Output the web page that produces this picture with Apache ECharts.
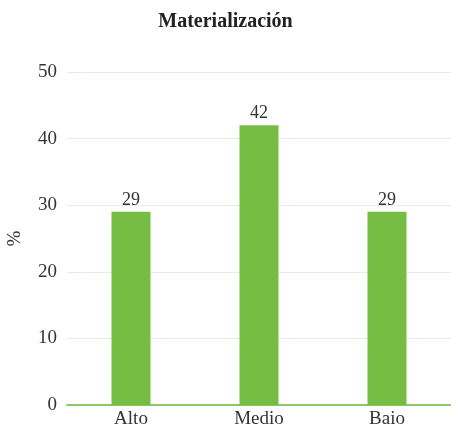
<!DOCTYPE html>
<html><head><meta charset="utf-8">
<script src="https://cdn.jsdelivr.net/npm/echarts@6/dist/echarts.min.js"></script>
<style>html,body{margin:0;padding:0;background:#fff}#c{width:451px;height:428px}</style>
</head><body><div id="c"></div>
<script>
const categories = ["Alto", "Medio", "Baio"];
const values = [29, 42, 29];
const yTicks = { min: 0, max: 50, interval: 10 };
const titleText = "Materialización";
const yName = "%";

const font = "'Liberation Serif', serif";
const chart = echarts.init(document.getElementById('c'));
chart.setOption({
  animation: false,
  title: { text: titleText, left: 'center', top: 7,
    textStyle: { fontFamily: font, fontSize: 20, fontWeight: 'bold', color: '#222' } },
  grid: { left: 67, right: 0, top: 72, bottom: 23, containLabel: false, outerBoundsMode: 'none' },
  xAxis: { type: 'category', data: categories,
    axisLine: { lineStyle: { color: '#8cc866', width: 2 } },
    axisTick: { show: false },
    axisLabel: { fontFamily: font, fontSize: 19, color: '#333', margin: 5 } },
  yAxis: { type: 'value', min: yTicks.min, max: yTicks.max, interval: yTicks.interval,
    name: yName, nameLocation: 'middle', nameGap: 42,
    nameTextStyle: { fontFamily: font, fontSize: 19, color: '#333' },
    axisLine: { show: false }, axisTick: { show: false },
    axisLabel: { fontFamily: font, fontSize: 19, color: '#333', margin: 10 },
    splitLine: { lineStyle: { color: '#e5eed8', width: 1 } } },
  series: [{ type: 'bar', data: values, barWidth: 39,
    itemStyle: { color: '#76be43' },
    label: { show: true, position: 'top', distance: 3, fontFamily: font, fontSize: 18, color: '#333' } }]
});
</script></body></html>
